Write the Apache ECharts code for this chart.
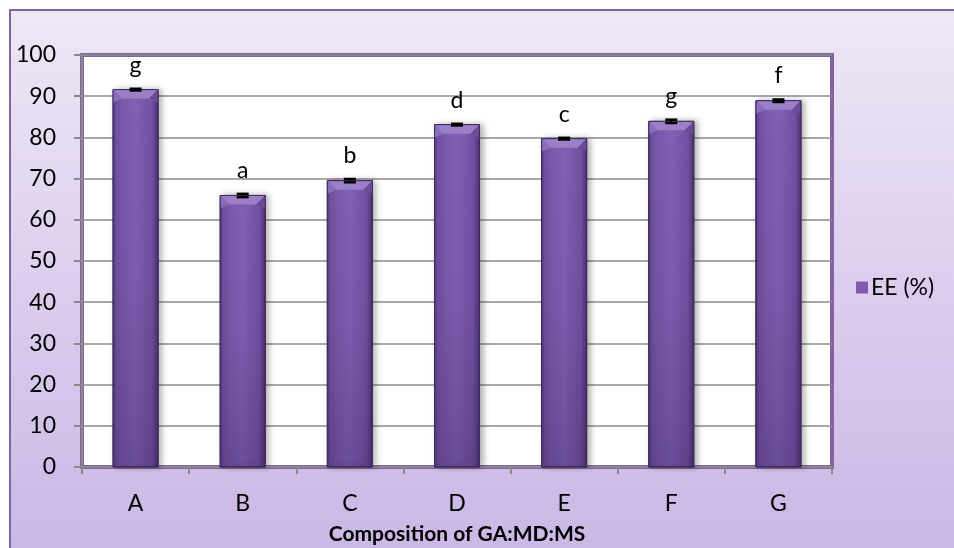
<!DOCTYPE html>
<html>
<head>
<meta charset="utf-8">
<title>EE (%)</title>
<script src="https://cdn.jsdelivr.net/npm/echarts@6/dist/echarts.min.js"></script>
<style>
  html, body { margin: 0; padding: 0; background: #fff; }
  #chart { width: 954px; height: 548px; }
</style>
</head>
<body>
<div id="chart"></div>
<script>
// Encapsulation efficiency for each formulation
const categories = ['A', 'B', 'C', 'D', 'E', 'F', 'G'];
const eeValues = [91.6, 65.9, 69.5, 83.1, 79.7, 83.9, 88.9];
const eeErrors = [0.2, 0.4, 0.4, 0.2, 0.2, 0.4, 0.3];
const groupLetters = ['g', 'a', 'b', 'd', 'c', 'g', 'f'];
const yTicks = [0, 10, 20, 30, 40, 50, 60, 70, 80, 90, 100];

const FONT = 'Lato, "Open Sans", sans-serif';
const PURPLE = '#8064a2';

const chart = echarts.init(document.getElementById('chart'), null, { renderer: 'canvas' });

// Bevelled bar: body with side shading, darker foot, lighter top facets
function renderBar(params, api) {
  const idx = api.value(0);
  const val = api.value(1);
  const top = api.coord([idx, val]);
  const base = api.coord([idx, 0]);
  const w = api.size([1, 0])[0] * 0.42;
  const x0 = top[0] - w / 2;
  const x1 = top[0] + w / 2;
  const y0 = top[1];
  const y1 = base[1];
  const h = y1 - y0;
  const b = 9;
  return {
    type: 'group',
    children: [
      {
        type: 'rect',
        shape: { x: x0, y: y0, width: w, height: h },
        style: {
          fill: new echarts.graphic.LinearGradient(0, 0, 1, 0, [
            { offset: 0, color: '#54397e' },
            { offset: 0.08, color: '#7555a6' },
            { offset: 0.5, color: '#8161b4' },
            { offset: 0.86, color: '#7150a1' },
            { offset: 1, color: '#4a3270' }
          ]),
          stroke: '#3e2a5e',
          lineWidth: 1,
          shadowBlur: 6,
          shadowOffsetX: 3,
          shadowOffsetY: 0,
          shadowColor: 'rgba(0,0,0,0.3)'
        }
      },
      {
        type: 'rect',
        shape: { x: x0 + 0.5, y: y0, width: w - 1, height: h },
        style: {
          fill: new echarts.graphic.LinearGradient(0, 0, 0, 1, [
            { offset: 0, color: 'rgba(40,20,70,0)' },
            { offset: 0.5, color: 'rgba(40,20,70,0.06)' },
            { offset: 1, color: 'rgba(40,20,70,0.25)' }
          ])
        }
      },
      {
        type: 'polygon',
        shape: { points: [[x0, y0], [x1, y0], [x1 - b, y0 + b], [x0 + b, y0 + b]] },
        style: { fill: '#9b80c8' }
      },
      {
        type: 'polygon',
        shape: { points: [[x0, y0], [x0 + b, y0 + b], [x0, y0 + b + 4]] },
        style: { fill: '#8a6cbd' }
      },
      {
        type: 'polygon',
        shape: { points: [[x1, y0], [x1 - b, y0 + b], [x1, y0 + b + 4]] },
        style: { fill: '#6a4b98' }
      },
      {
        type: 'rect',
        shape: { x: x0, y: y0, width: w, height: h },
        style: { fill: 'none', stroke: '#3e2a5e', lineWidth: 1 }
      }
    ]
  };
}

// Error bar with caps and the significance letter above it
function renderError(params, api) {
  const idx = api.value(0);
  const val = api.value(1);
  const err = api.value(2);
  const hi = api.coord([idx, val + err]);
  const lo = api.coord([idx, val - err]);
  const cx = hi[0];
  const cap = 6;
  return {
    type: 'group',
    children: [
      { type: 'line', shape: { x1: cx, y1: hi[1], x2: cx, y2: lo[1] }, style: { stroke: '#000', lineWidth: 1.5 } },
      { type: 'line', shape: { x1: cx - cap, y1: hi[1], x2: cx + cap, y2: hi[1] }, style: { stroke: '#000', lineWidth: 2.5 } },
      { type: 'line', shape: { x1: cx - cap, y1: lo[1], x2: cx + cap, y2: lo[1] }, style: { stroke: '#000', lineWidth: 2.5 } },
      {
        type: 'text',
        x: cx,
        y: hi[1] - 12,
        style: {
          text: groupLetters[idx],
          font: '23px ' + FONT,
          fill: '#000',
          align: 'center',
          verticalAlign: 'bottom'
        }
      }
    ]
  };
}

const barData = categories.map((c, i) => [i, eeValues[i]]);
const errData = categories.map((c, i) => [i, eeValues[i], eeErrors[i]]);

chart.setOption({
  backgroundColor: '#ffffff',
  animation: false,
  textStyle: { fontFamily: FONT },
  graphic: [
    {
      type: 'rect',
      z: -10,
      silent: true,
      shape: { x: 10, y: 10, width: 960, height: 560 },
      style: {
        fill: new echarts.graphic.LinearGradient(0, 0, 0, 1, [
          { offset: 0, color: '#eee8f6' },
          { offset: 0.5, color: '#dccdee' },
          { offset: 1, color: '#c9b6e5' }
        ]),
        stroke: PURPLE,
        lineWidth: 2
      }
    }
  ],
  grid: {
    left: 82,
    right: 122,
    top: 55,
    bottom: 81,
    outerBoundsMode: 'none',
    containLabel: false,
    show: true,
    backgroundColor: '#ffffff',
    borderColor: PURPLE,
    borderWidth: 4
  },
  legend: {
    left: 851,
    top: 271,
    icon: 'rect',
    itemWidth: 12,
    itemHeight: 12,
    itemGap: 4,
    data: ['EE (%)'],
    textStyle: { fontSize: 23, fontFamily: FONT, color: '#000', padding: [0, 0, 0, -2] }
  },
  xAxis: {
    type: 'category',
    data: categories,
    name: 'Composition of GA:MD:MS',
    nameLocation: 'middle',
    nameGap: 57,
    nameTextStyle: { fontSize: 21, fontWeight: 'bold', fontFamily: FONT, color: '#000' },
    axisLine: { lineStyle: { color: '#8a8a8a', width: 2 } },
    axisTick: { show: true, length: 7, lineStyle: { color: '#8a8a8a', width: 2 } },
    axisLabel: { fontSize: 23, fontFamily: FONT, color: '#000', margin: 25 },
    splitLine: { show: false }
  },
  yAxis: {
    type: 'value',
    min: yTicks[0],
    max: yTicks[yTicks.length - 1],
    interval: yTicks[1] - yTicks[0],
    axisLine: { show: true, lineStyle: { color: '#8a8a8a', width: 2 } },
    axisTick: { show: true, length: 8, lineStyle: { color: '#8a8a8a', width: 2 } },
    axisLabel: { fontSize: 23, fontFamily: FONT, color: '#000', margin: 26 },
    splitLine: { lineStyle: { color: '#8c8c8c', width: 1.5 } }
  },
  series: [
    {
      name: 'EE (%)',
      type: 'custom',
      renderItem: renderBar,
      itemStyle: { color: '#7d5cb0' },
      encode: { x: 0, y: 1 },
      data: barData,
      z: 3
    },
    {
      name: 'error',
      type: 'custom',
      renderItem: renderError,
      encode: { x: 0, y: [1, 2] },
      data: errData,
      z: 4
    }
  ]
});
</script>
</body>
</html>
